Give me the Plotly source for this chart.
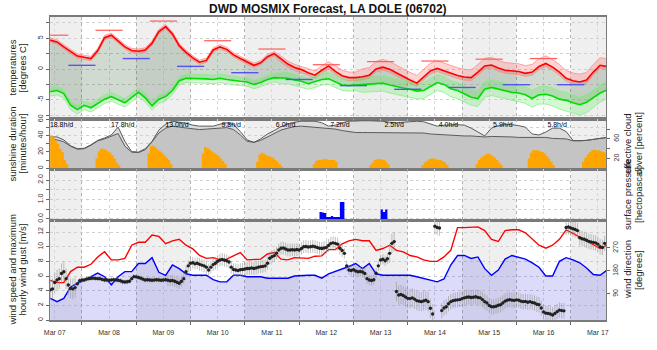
import plotly.graph_objects as go
from datetime import datetime, timedelta

# ---------------- data ----------------
BASE = datetime(2024, 3, 7)
START_H, END_H = 9.9, 255.6
HOURS = list(range(10, 257, 3))          # 3-hourly forecast steps (hours after Mar 07 00 UTC)
DIR_HOURS = list(range(10, 256))         # hourly steps for wind direction

DAY_LABELS = ["Mar 07", "Mar 08", "Mar 09", "Mar 10", "Mar 11", "Mar 12",
              "Mar 13", "Mar 14", "Mar 15", "Mar 16", "Mar 17"]

# temperature (red) and dew point (green), degrees C
T_MEAN = [4.7, 4.4, 3.6, 2.8, 2.1, 1.9, 1.7, 3.0, 5.1, 5.5,
          4.5, 3.6, 3.0, 2.9, 3.1, 4.2, 6.1, 6.9, 5.7, 3.8,
          2.7, 1.8, 1.1, 1.4, 3.1, 3.6, 3.2, 2.3, 1.7, 1.2,
          0.6, 1.0, 2.0, 2.5, 1.6, 0.8, 0.25, -0.1, -0.6, -1.0,
          -0.2, 0.5, -0.4, -1.1, -1.4, -1.4, -1.25, -1.0, 0.0, 0.3,
          -0.05, -0.65, -1.25, -1.8, -2.3, -1.3, -0.3, 0.1, -0.3, -0.7,
          -1.05, -1.3, -1.4, -0.5, 0.5, 0.65, 0.15, -0.2, -0.3, -0.4,
          -0.7, -0.5, 0.4, 0.9, 0.3, -0.5, -1.5, -1.9, -2.1, -1.8,
          -0.5, 0.6, 0.4]
T_UP = [5.05, 4.75, 3.95, 3.15, 2.45, 2.25, 2.05, 3.35, 5.45, 5.85,
        4.85, 3.95, 3.35, 3.25, 3.45, 4.55, 6.45, 7.25, 6.05, 4.15,
        3.05, 2.15, 1.45, 1.75, 3.45, 3.95, 3.55, 2.65, 2.05, 1.55,
        0.95, 1.35, 2.35, 2.85, 2.1, 1.3, 0.75, 0.4, 0.1, -0.3,
        0.5, 1.2, 0.5, -0.2, -0.5, -0.5, 0.0, 0.25, 1.25, 1.55,
        1.2, 0.6, 0.0, -0.55, -1.05, -0.05, 0.95, 1.35, 0.95, 0.55,
        0.2, -0.05, -0.15, 0.75, 1.75, 1.9, 1.4, 1.05, 0.95, 0.85,
        0.55, 0.75, 1.65, 2.15, 1.55, 0.75, -0.25, -0.65, -0.85, -0.55,
        0.75, 1.85, 1.65]
T_LO = [4.35, 4.05, 3.25, 2.45, 1.75, 1.55, 1.35, 2.65, 4.75, 5.15,
        4.15, 3.25, 2.65, 2.55, 2.75, 3.85, 5.75, 6.55, 5.35, 3.45,
        2.35, 1.45, 0.75, 1.05, 2.75, 3.25, 2.85, 1.95, 1.35, 0.85,
        0.25, 0.65, 1.65, 2.15, 1.1, 0.3, -0.25, -0.6, -1.1, -1.5,
        -0.7, 0.0, -0.9, -1.6, -1.9, -1.9, -1.75, -1.5, -0.5, -0.2,
        -0.55, -1.15, -1.75, -2.3, -2.8, -1.8, -0.8, -0.4, -0.8, -1.2,
        -1.55, -1.8, -1.9, -1.0, 0.0, 0.15, -0.35, -0.7, -0.8, -0.9,
        -1.2, -1.0, -0.1, 0.4, -0.2, -1.0, -2.0, -2.4, -2.6, -2.3,
        -1.0, 0.1, -0.1]
TD_MEAN = [-3.7, -3.5, -4.0, -5.9, -6.6, -5.9, -6.3, -5.6, -4.9, -4.5,
           -5.0, -5.5, -4.6, -3.8, -4.7, -6.0, -4.9, -4.5, -3.5, -1.9,
           -1.5, -1.5, -1.5, -1.6, -1.7, -1.5, -1.7, -1.9, -2.0, -2.1,
           -2.5, -2.2, -1.7, -1.4, -1.5, -1.5, -1.8, -2.0, -2.4, -2.1,
           -1.7, -1.6, -2.1, -2.6, -2.7, -2.6, -2.5, -2.4, -2.4, -2.3,
           -2.6, -2.9, -3.1, -3.3, -3.6, -3.5, -2.8, -2.2, -2.5, -3.2,
           -3.5, -4.0, -4.6, -4.8, -3.3, -3.0, -3.3, -3.6, -3.8, -3.9,
           -4.2, -4.8, -4.2, -4.1, -4.4, -4.9, -5.1, -5.5, -5.8, -5.4,
           -4.6, -3.9, -3.4]
TD_UP = [-3.0, -2.8, -3.3, -5.2, -5.9, -5.2, -5.6, -4.9, -4.2, -3.8,
         -4.3, -4.8, -3.9, -3.1, -4.0, -5.3, -4.2, -3.8, -2.8, -1.2,
         -0.8, -0.8, -0.8, -0.9, -1.0, -0.8, -1.0, -1.2, -1.3, -1.4,
         -1.8, -1.5, -1.0, -0.7, -0.5, -0.5, -0.8, -1.0, -1.4, -1.1,
         -0.7, -0.6, -1.1, -1.6, -1.7, -1.6, -1.2, -1.1, -1.1, -1.0,
         -1.3, -1.6, -1.8, -2.0, -2.3, -2.2, -1.5, -0.9, -1.2, -1.9,
         -2.2, -2.7, -3.3, -3.5, -2.0, -1.7, -2.0, -2.3, -2.5, -2.6,
         -2.9, -3.5, -2.9, -2.8, -3.1, -3.6, -3.8, -4.2, -4.5, -4.1,
         -3.3, -2.6, -2.1]
TD_LO = [-4.4, -4.2, -4.7, -6.6, -7.3, -6.6, -7.0, -6.3, -5.6, -5.2,
         -5.7, -6.2, -5.3, -4.5, -5.4, -6.7, -5.6, -5.2, -4.2, -2.6,
         -2.2, -2.2, -2.2, -2.3, -2.4, -2.2, -2.4, -2.6, -2.7, -2.8,
         -3.2, -2.9, -2.4, -2.1, -2.4, -2.4, -2.7, -2.9, -3.3, -3.0,
         -2.6, -2.5, -3.0, -3.5, -3.6, -3.5, -3.8, -3.7, -3.7, -3.6,
         -3.9, -4.2, -4.4, -4.6, -4.9, -4.8, -4.1, -3.5, -3.8, -4.5,
         -4.8, -5.3, -5.9, -6.1, -4.6, -4.3, -4.6, -4.9, -5.1, -5.3,
         -5.6, -6.2, -5.7, -5.7, -6.0, -6.5, -6.8, -7.2, -7.5, -7.1,
         -6.2, -5.4, -4.8]

# daytime maximum (06-18 UTC) and night-time minimum (18-06 UTC)
TMAX_H0 = [10, 30, 54, 78, 102, 126, 150, 174, 198, 222]
TMAX_H1 = [18, 42, 66, 90, 114, 138, 162, 186, 210, 234]
TMAX_V = [5.5, 6.3, 7.8, 4.6, 3.25, 0.7, 1.2, 1.3, 1.6, 1.7]
TMIN_H0 = [18, 42, 66, 90, 114, 138, 162, 186, 210, 234]
TMIN_H1 = [30, 54, 78, 102, 126, 150, 174, 198, 222, 246]
TMIN_V = [0.6, 1.7, 0.43, -0.6, -1.7, -2.7, -3.3, -3.0, -2.55, -2.55]

# sunshine duration, minutes per hour (hourly, grouped by first hour of each sunny spell)
SUN_SEGMENTS = {
    10: [40, 37, 33, 30, 24, 20, 10, 5],
    30: [12, 21, 24, 24, 23, 21, 19, 16, 12, 7, 4],
    53: [18, 27, 28, 26, 23, 21, 19, 16, 13, 10, 5],
    77: [18, 26, 25, 23, 21, 19, 17, 15, 12, 9, 5],
    101: [8, 17, 19, 18, 16, 15, 14, 13, 10, 8, 5, 2],
    126: [5, 9, 10, 10, 11, 11, 11, 10, 10, 10, 8],
    151: [4, 7, 10, 11, 11, 11, 10, 8, 5],
    174: [4, 7, 9, 11, 12, 12, 11, 10, 10, 9, 7, 4],
    198: [5, 10, 13, 15, 17, 18, 17, 15, 13, 10, 7, 4],
    221: [12, 19, 22, 22, 22, 21, 20, 18, 15, 12, 8, 4],
    245: [8, 13, 17, 20, 22, 23, 22, 22, 21, 20, 19],
}
SUN_LABEL_H = [15, 42, 66, 90, 114, 138, 162, 186, 210, 234]
SUN_LABELS = ["18.8h/d", "17.8h/d", "13.0h/d", "9.8h/d", "6.0h/d",
              "7.2h/d", "2.5h/d", "4.0h/d", "5.9h/d", "5.8h/d"]

# cloud cover, percent
CLOUD_TOTAL = [64, 64, 58, 46, 40, 41, 48, 57, 62, 68,
               84, 55, 34, 33, 40, 55, 78, 90, 96, 94,
               92, 88, 86, 86, 86, 90, 93, 89, 75, 58,
               53, 60, 70, 77, 85, 90, 94, 96, 96, 96,
               93, 86, 88, 93, 96, 97, 97, 97, 97, 96,
               94, 93, 94, 95, 96, 95, 90, 86, 88, 89,
               89, 88, 82, 74, 66, 82, 87, 89, 89, 87,
               84, 70, 68, 74, 82, 82, 75, 57, 56, 57,
               59, 61, 63]
CLOUD_EFF = [59, 58, 54, 45, 39, 40, 47, 56, 60, 66,
             71, 45, 33, 32, 38, 54, 72, 82, 86, 84,
             82, 80, 79, 80, 81, 82, 83, 79, 68, 55,
             53, 57, 64, 70, 78, 82, 85, 86, 85, 83,
             83, 82, 80, 77, 75, 73, 73, 73, 73, 73,
             73, 73, 73, 73, 73, 72, 70, 69, 69, 68,
             66, 66, 66, 65, 64, 65, 65, 64, 64, 63,
             63, 62, 62, 63, 61, 61, 60, 56, 56, 57,
             59, 61, 63]

# hourly precipitation
PRECIP_SEGMENTS = {
    129: [0.36, 0.33, 0.3, 0.1, 0.1, 0.15, 0.1, 0.1, 0.1, 0.87, 0.87],
    156: [0.49, 0.36, 0.49],
}

# wind (m/s)
WIND_SPEED = [2.95, 2.5, 2.95, 4.5, 5.0, 5.4, 5.9, 6.4, 5.9, 4.8,
              5.9, 6.6, 6.6, 7.7, 7.7, 8.5, 6.5, 6.1, 7.5, 7.0,
              6.3, 6.1, 6.1, 6.1, 5.5, 5.2, 5.2, 6.1, 6.1, 5.9,
              5.9, 5.9, 5.7, 5.7, 5.7, 5.7, 6.0, 6.1, 6.1, 6.1,
              5.7, 6.3, 6.6, 7.0, 7.3, 7.7, 7.0, 7.7, 6.3, 6.1,
              6.1, 6.0, 6.1, 6.1, 5.9, 5.7, 5.5, 5.2, 5.6, 7.5,
              8.8, 8.8, 8.4, 8.6, 7.0, 6.1, 6.8, 8.3, 8.8, 8.5,
              8.3, 7.8, 7.2, 6.0, 6.0, 8.0, 8.5, 8.2, 7.8, 7.1,
              6.2, 6.1, 6.8]
WIND_GUST = [5.4, 5.1, 5.1, 6.6, 7.2, 7.2, 7.6, 8.6, 9.3, 8.2,
             8.2, 8.4, 10.2, 10.6, 10.6, 11.6, 11.4, 10.4, 10.8, 11.0,
             10.2, 9.7, 8.8, 8.4, 8.5, 8.2, 8.3, 8.8, 9.2, 8.2,
             8.2, 8.3, 9.0, 9.2, 8.3, 8.2, 8.5, 8.4, 8.4, 8.7,
             8.75, 9.6, 9.6, 10.4, 10.8, 11.0, 10.8, 10.8, 9.5, 9.75,
             10.2, 9.5, 9.3, 8.8, 8.6, 8.2, 8.0, 8.0, 8.6, 9.5,
             12.6, 12.6, 12.6, 12.7, 12.2, 11.0, 10.7, 12.2, 12.3, 12.3,
             11.9, 11.0, 10.2, 9.8, 10.2, 11.0, 12.3, 11.8, 11.3, 10.7,
             10.2, 9.75, 10.2]

# hourly wind direction (degrees), h = 10 ... 255
WIND_DIR = [106, 110, 135, 145, 150, 170, 177, 150, 125, 112,
            110, 115, 130, 142, 145, 145, 148, 150, 151, 152,
            151, 150, 150, 147, 145, 145, 144, 145, 146, 145,
            144, 142, 138, 137, 138, 140, 150, 158, 157, 155,
            152, 148, 145, 146, 145, 144, 145, 146, 145, 144,
            145, 146, 144, 142, 143, 140, 136, 132, 140, 150,
            177, 200, 210, 212, 208, 210, 206, 203, 200, 195,
            184, 195, 205, 210, 218, 223, 225, 222, 220, 215,
            195, 186, 184, 182, 185, 186, 188, 190, 190, 192,
            190, 192, 195, 197, 198, 200, 210, 230, 236, 240,
            250, 262, 269, 270, 266, 262, 262, 263, 262, 264,
            262, 268, 275, 276, 274, 275, 277, 275, 272, 269,
            268, 270, 272, 280, 288, 290, 288, 285, 269, 260,
            249, 200, 184, 182, 185, 180, 177, 178, 176, 170,
            150, 145, 143, 146, 171, 200, 223, 226, 220, 228,
            249, 288, 295, 100, 86, 88, 84, 78, 73, 72,
            75, 70, 64, 62, 60, 63, 66, 60, 34, 12,
            355, 350, 348, 25, 35, 40, 52, 60, 64, 66,
            67, 68, 72, 75, 77, 78, 76, 77, 79, 76,
            75, 68, 60, 55, 45, 40, 40, 42, 46, 48,
            55, 62, 66, 68, 66, 65, 67, 66, 62, 60,
            61, 58, 60, 57, 55, 50, 48, 35, 20, 15,
            14, 12, 8, 14, 21, 27, 25, 24, 350, 352,
            348, 345, 342, 338, 310, 306, 304, 300, 296, 294,
            292, 290, 285, 275, 272, 288]
# spread (+/- degrees) of the direction, by hour range [h0, h1)
DIR_SPREAD_RANGES = [(10, 22, 40), (22, 62, 10), (62, 76, 22), (76, 140, 25),
                     (140, 160, 20), (160, 180, 38), (180, 256, 30)]

for arr in (T_MEAN, T_UP, T_LO, TD_MEAN, TD_UP, TD_LO, CLOUD_TOTAL, CLOUD_EFF,
            WIND_SPEED, WIND_GUST):
    assert len(arr) == len(HOURS), len(arr)
assert len(WIND_DIR) == len(DIR_HOURS), len(WIND_DIR)


# ---------------- helpers ----------------
def t(h):
    return BASE + timedelta(hours=h)


times = [t(h) for h in HOURS]
dir_times = [t(h) for h in DIR_HOURS]
dir_spread = []
for h in DIR_HOURS:
    for h0, h1, s in DIR_SPREAD_RANGES:
        if h0 <= h < h1:
            dir_spread.append(s)
            break


def seg_xy(h0s, h1s, vals):
    xs, ys = [], []
    for a, b, v in zip(h0s, h1s, vals):
        xs += [t(a), t(b), None]
        ys += [v, v, None]
    return xs, ys


def hourly_steps(segments):
    """Step outline of hourly values (each value covers [h, h+1)), zero between spells."""
    xs, ys = [], []
    for h0, vals in segments.items():
        for i, v in enumerate(vals):
            xs.append(t(h0 + i))
            ys.append(v)
        xs += [t(h0 + len(vals)), t(h0 + len(vals))]
        ys += [vals[-1], 0]
    return xs, ys


FONT = "Liberation Sans, Arial, Helvetica, sans-serif"
TICKFONT = dict(family=FONT, size=7, color="#333333")

fig = go.Figure()

# ---- panel 1: temperatures ----
fig.add_trace(go.Scatter(x=times, y=TD_MEAN, mode="lines", line=dict(width=0),
                         xaxis="x", yaxis="y", hoverinfo="skip"))
fig.add_trace(go.Scatter(x=times, y=T_MEAN, mode="lines", line=dict(width=0),
                         fill="tonexty", fillcolor="rgba(60,100,60,0.24)",
                         xaxis="x", yaxis="y", hoverinfo="skip"))
fig.add_trace(go.Scatter(x=times, y=T_LO, mode="lines", line=dict(color="#ff8c8c", width=0.8),
                         xaxis="x", yaxis="y"))
fig.add_trace(go.Scatter(x=times, y=T_UP, mode="lines", line=dict(color="#ff8c8c", width=0.8),
                         fill="tonexty", fillcolor="rgba(255,60,60,0.22)", xaxis="x", yaxis="y"))
fig.add_trace(go.Scatter(x=times, y=TD_LO, mode="lines", line=dict(color="#8cee8c", width=0.8),
                         xaxis="x", yaxis="y"))
fig.add_trace(go.Scatter(x=times, y=TD_UP, mode="lines", line=dict(color="#8cee8c", width=0.8),
                         fill="tonexty", fillcolor="rgba(60,230,60,0.22)", xaxis="x", yaxis="y"))
fig.add_trace(go.Scatter(x=times, y=T_MEAN, mode="lines", line=dict(color="#ff0000", width=1.6),
                         xaxis="x", yaxis="y"))
fig.add_trace(go.Scatter(x=times, y=TD_MEAN, mode="lines", line=dict(color="#00dd00", width=1.6),
                         xaxis="x", yaxis="y"))
mx, my = seg_xy(TMAX_H0, TMAX_H1, TMAX_V)
fig.add_trace(go.Scatter(x=mx, y=my, mode="lines", line=dict(color="#ff5c5c", width=1.2),
                         xaxis="x", yaxis="y"))
nx, ny = seg_xy(TMIN_H0, TMIN_H1, TMIN_V)
fig.add_trace(go.Scatter(x=nx, y=ny, mode="lines", line=dict(color="#5555ee", width=1.4),
                         xaxis="x", yaxis="y"))

# ---- panel 2: clouds (y2, right) and sunshine (y5, left) ----
fig.add_trace(go.Scatter(x=times, y=CLOUD_EFF, mode="lines", line=dict(color="#5a5a5a", width=1),
                         fill="tozeroy", fillcolor="#c4c4c4", xaxis="x2", yaxis="y2"))
fig.add_trace(go.Scatter(x=times, y=CLOUD_TOTAL, mode="lines", line=dict(color="#5a5a5a", width=1),
                         fill="tonexty", fillcolor="#dcdcdc", xaxis="x2", yaxis="y2"))
sx, sy = hourly_steps(SUN_SEGMENTS)
fig.add_trace(go.Scatter(x=sx, y=sy, mode="lines", line=dict(width=0, shape="hv"),
                         fill="tozeroy", fillcolor="#ffa500",
                         xaxis="x2", yaxis="y5"))
fig.add_trace(go.Scatter(x=[t(h) for h in SUN_LABEL_H], y=[53] * len(SUN_LABELS),
                         mode="text", text=SUN_LABELS,
                         textfont=dict(family=FONT, size=7, color="#000000"),
                         xaxis="x2", yaxis="y5"))

# ---- panel 3: precipitation ----
px_, py_ = hourly_steps(PRECIP_SEGMENTS)
fig.add_trace(go.Scatter(x=px_, y=py_, mode="lines", line=dict(width=0, shape="hv"),
                         fill="tozeroy", fillcolor="#0000ff",
                         xaxis="x3", yaxis="y3"))

# ---- panel 4: wind ----
fig.add_trace(go.Scatter(x=times, y=WIND_SPEED, mode="lines", line=dict(color="#0000ff", width=1.4),
                         fill="tozeroy", fillcolor="rgba(70,70,230,0.19)", xaxis="x4", yaxis="y4"))
fig.add_trace(go.Scatter(x=times, y=WIND_GUST, mode="lines", line=dict(color="#ff0000", width=1.4),
                         xaxis="x4", yaxis="y4"))
fig.add_trace(go.Scatter(x=dir_times, y=WIND_DIR, mode="markers",
                         marker=dict(color="#222222", size=3.4),
                         error_y=dict(type="data", array=dir_spread, color="rgba(150,150,150,0.75)",
                                      thickness=0.8, width=0),
                         xaxis="x4", yaxis="y6"))

# ---------------- layout ----------------
noons = [t(12 + 24 * i) for i in range(len(DAY_LABELS))]
midnights = [t(24 * i) for i in range(1, len(DAY_LABELS))]


def xaxis(anchor, labels):
    return dict(type="date", range=[t(START_H), t(END_H)], anchor=anchor, domain=[0, 1],
                tickmode="array", tickvals=noons, ticktext=DAY_LABELS,
                showticklabels=labels, ticks="outside", ticklen=5,
                tickcolor="rgba(0,0,0,0)", tickfont=TICKFONT,
                showgrid=True, gridcolor="#d8d8d8", griddash="3px,3px", gridwidth=1,
                minor=dict(tickmode="array", tickvals=midnights,
                           ticks="outside" if labels else "", ticklen=3, tickcolor="#666666",
                           showgrid=True, gridcolor="#b0b0b0", griddash="3px,3px", gridwidth=1),
                showline=True, mirror=True, linecolor="#7a7a7a", linewidth=1.6,
                zeroline=False, fixedrange=True)


def yaxis(domain, rng, vals, text, anchor, side="left", grid=True):
    return dict(domain=domain, range=rng, anchor=anchor, side=side,
                tickmode="array", tickvals=vals, ticktext=text, tickangle=-90,
                ticks="outside", ticklen=3, tickcolor="#666666", tickfont=TICKFONT,
                showgrid=grid, gridcolor="#d0d0d0", griddash="3px,3px", gridwidth=1,
                showline=True, mirror=True, linecolor="#7a7a7a", linewidth=1.2,
                zeroline=False, fixedrange=True)


D1 = [0.6634, 1.0]
D2 = [0.4967, 0.6634]
D3 = [0.3284, 0.4967]
D4 = [0.0, 0.3284]

layout = dict(
    width=657, height=350, autosize=False,
    margin=dict(l=50, r=51, t=17, b=30, pad=0),
    paper_bgcolor="white", plot_bgcolor="rgba(0,0,0,0)",
    showlegend=False, hovermode=False,
    font=dict(family=FONT, size=9, color="#222222"),
    xaxis=xaxis("y", False), xaxis2=xaxis("y2", False),
    xaxis3=xaxis("y3", False), xaxis4=xaxis("y4", True),
    yaxis=yaxis(D1, [-8.13, 8.46], [-7.5, -5, -2.5, 0, 2.5, 5, 7.5],
                ["", "-5", "", "0", "", "5", ""], "x"),
    yaxis2=yaxis(D2, [-2.4, 100.6], [20, 40, 60, 80], ["20", "", "60", ""], "x2",
                 side="right", grid=False),
    yaxis5=dict(overlaying="y2", anchor="x2", side="left", range=[-1.5, 60.4],
                tickmode="array", tickvals=[0, 10, 20, 30, 40, 50, 60],
                ticktext=["0", "", "20", "", "40", "", "60"], tickangle=-90,
                ticks="outside", ticklen=3, tickcolor="#666666", tickfont=TICKFONT,
                showgrid=True, gridcolor="#d0d0d0", griddash="3px,3px",
                showline=False, zeroline=False, fixedrange=True),
    yaxis3=yaxis(D3, [-0.08, 2.54], [0, 0.5, 1.0, 1.5, 2.0],
                 ["0.0", "", "1.0", "", "2.0"], "x3"),
    yaxis4=yaxis(D4, [0, 13.57], [0, 2, 4, 6, 8, 10, 12],
                 ["0", "2", "4", "6", "8", "10", "12"], "x4"),
    yaxis6=dict(overlaying="y4", anchor="x4", side="right", range=[-11.7, 377.5],
                tickmode="array", tickvals=[90, 180, 270], ticktext=["90", "180", "270"],
                tickangle=-90, ticks="outside", ticklen=3, tickcolor="#666666",
                tickfont=TICKFONT, showgrid=False, showline=False, zeroline=False,
                fixedrange=True),
)

# alternating day shading (every other calendar day)
shapes = []
day_edges = [START_H] + [24 * i for i in range(1, 11)] + [END_H]
for i in range(len(day_edges) - 1):
    if i % 2 == 0:
        shapes.append(dict(type="rect", xref="x", yref="paper",
                           x0=t(day_edges[i]), x1=t(day_edges[i + 1]), y0=0, y1=1,
                           fillcolor="#efefef", line=dict(width=0), layer="below"))
layout["shapes"] = shapes


def px2x(px):
    return (px - 50) / 556.0


def px2y(py):
    return (320 - py) / 303.0


ann = []
ann.append(dict(text="<b>DWD MOSMIX Forecast, LA DOLE (06702)</b>", x=0.5, y=px2y(9),
                xref="paper", yref="paper", showarrow=False, xanchor="center", yanchor="middle",
                font=dict(family=FONT, size=12, color="#111111")))
side_titles = [
    ("temperatures", "[degrees C]", 68, "left"),
    ("sunshine duration", "[minutes/hour]", 144, "left"),
    ("wind speed and maximum", "hourly wind gust [m/s]", 270, "left"),
    ("effective cloud", "cover [percent]", 144, "right"),
    ("surface pressure", "[hectopascal]", 195, "right"),
    ("wind direction", "[degrees]", 270, "right"),
]
for l1, l2, yc, side in side_titles:
    xs = (11.5, 21.5) if side == "left" else (627, 638)
    for txt, xp in zip((l1, l2), xs):
        ann.append(dict(text=txt, x=px2x(xp), y=px2y(yc), xref="paper", yref="paper",
                        showarrow=False, textangle=-90, xanchor="center", yanchor="middle",
                        font=dict(family=FONT, size=9.5, color="#222222")))
layout["annotations"] = ann

fig.update_layout(**layout)
fig.write_html("out.html", include_plotlyjs=True, full_html=True,
               config={"displayModeBar": False, "staticPlot": True})
